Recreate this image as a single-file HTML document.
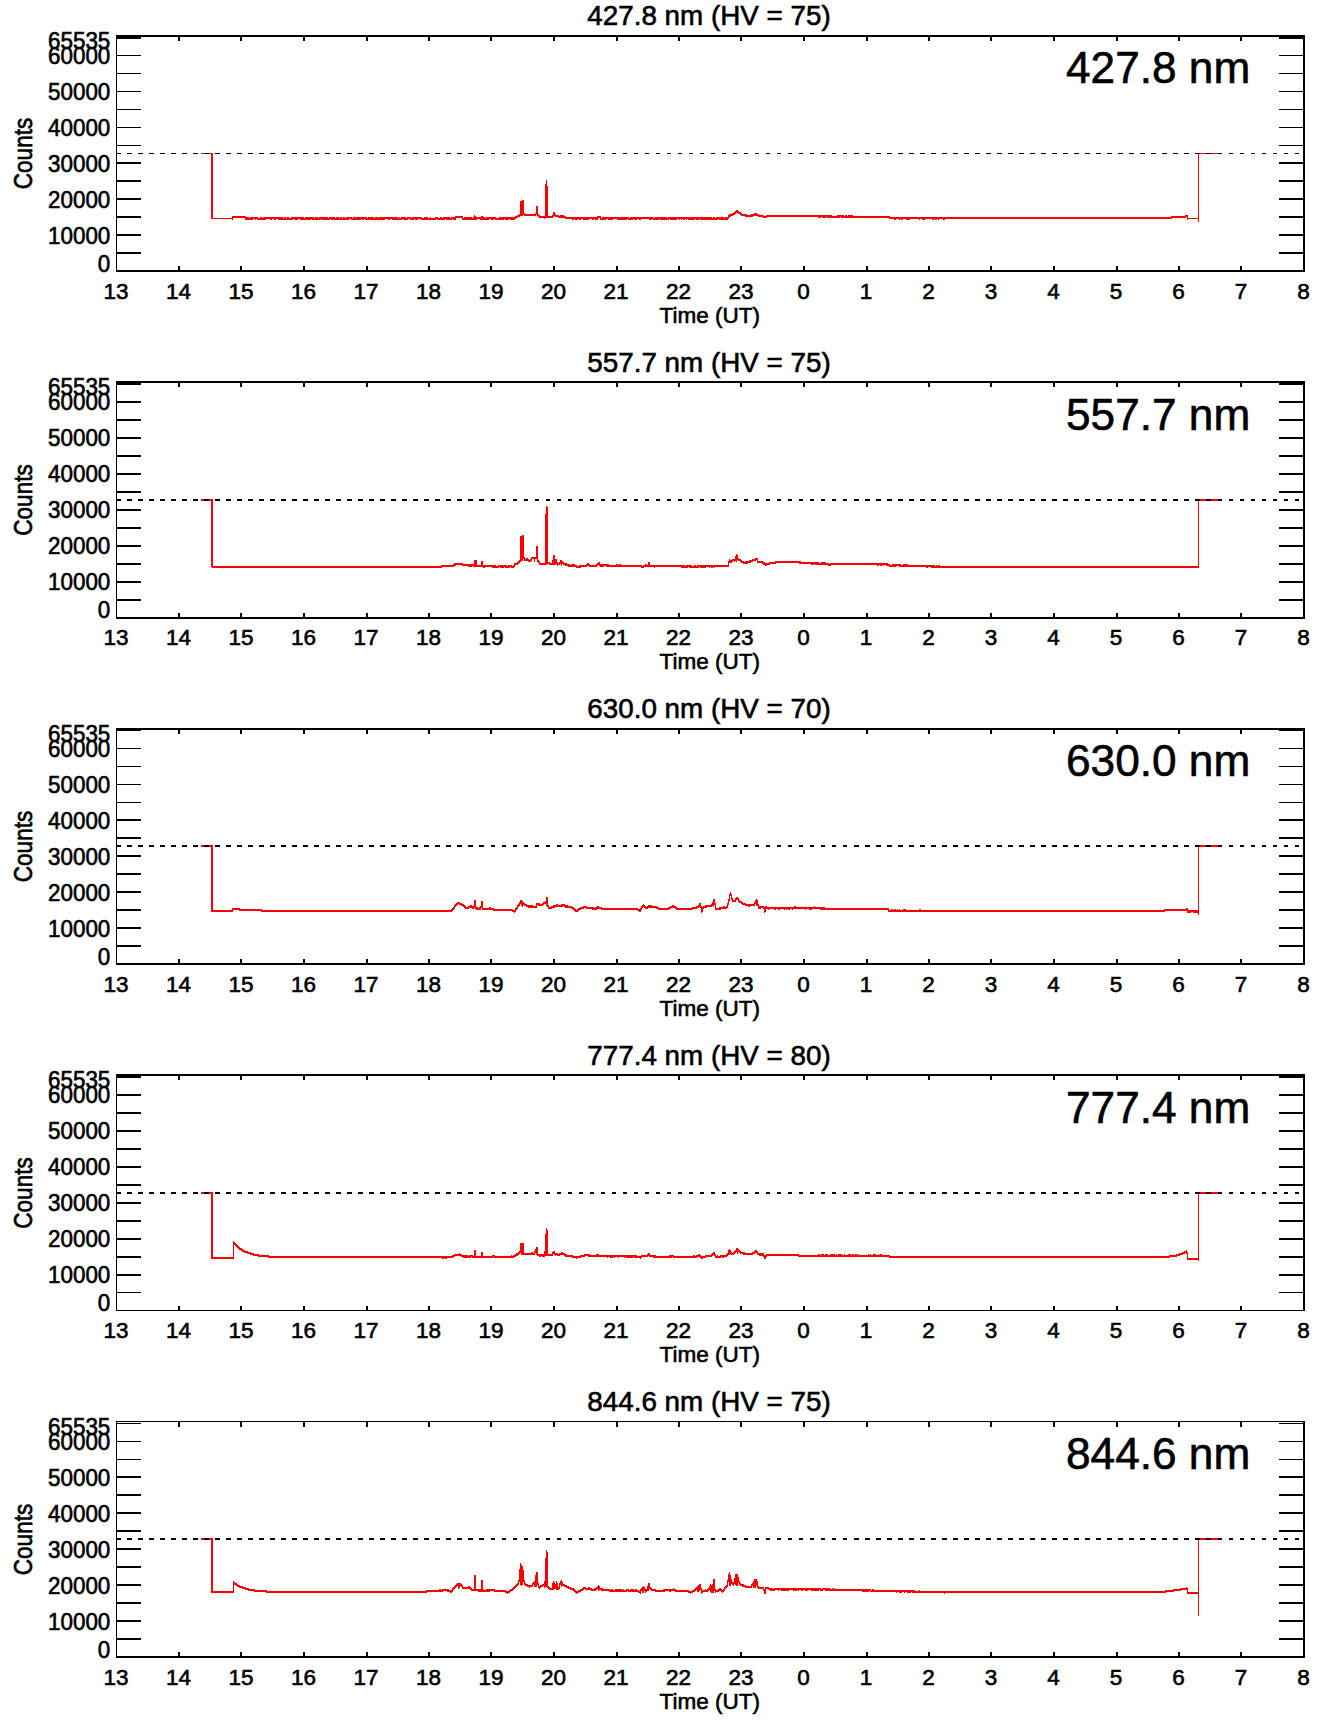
<!DOCTYPE html>
<html><head><meta charset="utf-8"><title>Counts vs Time (UT)</title>
<style>
html,body{margin:0;padding:0;background:#fff}
body{width:1336px;height:1731px;overflow:hidden}
svg{display:block}
svg text{font-family:"Liberation Sans",Arial,Helvetica,sans-serif;fill:#000;stroke:#000;stroke-width:.6px;shape-rendering:crispEdges;text-rendering:optimizeSpeed}
svg rect{shape-rendering:crispEdges}
.k{stroke:#000;shape-rendering:crispEdges}
.d{fill:#f00;stroke:none;shape-rendering:crispEdges}
.t{font-size:27.8px;text-anchor:middle}
.b{font-size:44.2px}
.x{font-size:22.5px;text-anchor:middle}
.y{font-size:22.4px;text-anchor:end}
</style></head><body>
<svg width="1336" height="1731" viewBox="0 0 1336 1731">
<rect width="1336" height="1731" fill="#fff"/>
<g transform="translate(0,0)">
<path class="d" d="M201,153h12v65h19v-2h14v1h3v1h1v-1h8v1h2v-1h2v1h1v-1h20v1h1v-1h2v1h1v-1h2v1h2v-1h13v1h1v-1h9v1h1v-1h3v1h1v-1h9v1h1v-1h6v1h1v-1h3v1h1v-1h2v1h1v-1h2v1h1v-1h6v1h1v-1h14v1h1v-1h6v1h1v-1h3v1h1v-1h19v1h1v-1h1v1h1v-1h5v1h1v-1h4v1h1v-1h10v1h2v-1h4v1h2v-1h1v1h4v-1h3v1h2v-1h2v1h1v-1h7v1h1v-1h4v-1h8v2h1v-1h8v1h1v-1h1v-2h1v1h1v1h5v-1h2v1h2v1h1v-1h10v1h3v-1h16v-1h2v-1h2v-1h1v-13h2v-1h2v13h1v1h10v-1h1v-7h2v8h1v1h1v1h5v-32h1v-4h1v6h1v30h4v-1h1v-3h2v2h1v1h3v1h1v-1h4v1h2v1h31v-1h4v2h1v-1h27v1h1v-1h24v1h1v-1h12v1h1v-1h44v1h1v-1h2v1h1v-1h8v1h1v-1h3v-2h1v-1h3v-1h2v-1h1v-1h1v-1h2v1h1v1h2v1h1v1h5v1h4v-1h3v-1h3v1h2v1h5v1h2v-1h66v1h5v-1h7v1h1v-1h2v1h1v-1h5v1h37v1h281v-1h14v-1h3v3h10v-65h21V154h-20v68h-1v-3h-10v1h-1v-3h-1v1h-14v1h-227v1h-2v-1h-4v1h-1v-1h-1v1h-2v-1h-1v1h-2v-1h-7v1h-3v-1h-2v1h-1v-1h-9v1h-4v-1h-3v1h-2v-1h-1v1h-1v-1h-3v1h-2v-1h-5v-1h-48v-1h-1v1h-13v-1h-1v1h-4v-1h-1v1h-3v-1h-51v1h-4v-1h-5v-1h-5v1h-8v-1h-4v-1h-1v-1h-2v-1h-2v1h-1v1h-2v1h-2v1h-2v2h-1v1h-9v-1h-1v1h-18v-1h-1v1h-3v-1h-1v1h-7v-1h-1v1h-1v-1h-1v1h-2v-1h-1v1h-1v-1h-1v1h-1v-1h-2v1h-7v-1h-1v1h-9v-1h-1v1h-6v-1h-1v1h-3v-1h-8v1h-2v-1h-2v1h-3v-1h-1v1h-5v-1h-1v1h-10v-1h-4v1h-5v-1h-2v1h-6v-2h-2v2h-3v-1h-1v1h-2v-1h-3v1h-6v-1h-2v1h-2v-1h-1v1h-3v-1h-1v1h-2v-1h-7v-1h-7v-1h-3v-1h-1v1h-1v1h-8v1h-1v-1h-5v-1h-1v-1h-1v-1h-1v1h-12v-1h-1v1h-3v1h-2v1h-2v1h-1v1h-5v-1h-1v1h-4v-1h-1v1h-9v-1h-1v1h-3v-1h-2v1h-9v-1h-3v1h-15v-2h-6v2h-3v-1h-1v1h-6v-1h-1v1h-8v-1h-1v1h-15v-1h-3v1h-3v-1h-1v1h-4v-1h-2v1h-5v-1h-1v1h-10v-1h-2v1h-2v-1h-3v1h-20v-1h-1v1h-2v-1h-1v1h-10v-1h-2v1h-18v-1h-1v1h-8v-1h-1v1h-9v-1h-1v1h-11v-1h-2v1h-4v-1h-1v1h-15v-1h-2v1h-2v-1h-2v1h-2v-1h-4v1h-9v-1h-1v1h-1v-1h-2v1h-8v-2h-12v2h-1v-1h-20v-65h-11z"/><rect class="d" x="211" y="153" width="2" height="66"/>
<line class="k" x1="116" x2="1301" y1="153.5" y2="153.5" stroke-width="1" stroke-dasharray="4.5 6.515"/>
<rect x="116" y="35" width="1189" height="2"/>
<rect x="116" y="270" width="1189" height="2"/>
<rect x="116" y="35" width="1" height="237"/>
<rect x="1303" y="35" width="2" height="237"/>
<rect x="116" y="35" width="25" height="4"/>
<rect x="1279" y="35" width="25" height="4"/>
<rect x="116" y="252" width="25" height="2"/>
<rect x="1279" y="252" width="25" height="2"/>
<rect x="116" y="234" width="25" height="2"/>
<rect x="1279" y="234" width="25" height="2"/>
<rect x="116" y="216" width="25" height="2"/>
<rect x="1279" y="216" width="25" height="2"/>
<rect x="116" y="198" width="25" height="2"/>
<rect x="1279" y="198" width="25" height="2"/>
<rect x="116" y="180" width="25" height="2"/>
<rect x="1279" y="180" width="25" height="2"/>
<rect x="116" y="162" width="25" height="2"/>
<rect x="1279" y="162" width="25" height="2"/>
<rect x="116" y="145" width="25" height="1"/>
<rect x="1279" y="145" width="25" height="1"/>
<rect x="116" y="127" width="25" height="1"/>
<rect x="1279" y="127" width="25" height="1"/>
<rect x="116" y="109" width="25" height="1"/>
<rect x="1279" y="109" width="25" height="1"/>
<rect x="116" y="91" width="25" height="1"/>
<rect x="1279" y="91" width="25" height="1"/>
<rect x="116" y="73" width="25" height="1"/>
<rect x="1279" y="73" width="25" height="1"/>
<rect x="116" y="55" width="25" height="1"/>
<rect x="1279" y="55" width="25" height="1"/>
<rect x="178" y="266" width="2" height="5"/>
<rect x="178" y="35" width="2" height="6"/>
<rect x="240" y="266" width="2" height="5"/>
<rect x="240" y="35" width="2" height="6"/>
<rect x="303" y="266" width="2" height="5"/>
<rect x="303" y="35" width="2" height="6"/>
<rect x="366" y="266" width="2" height="5"/>
<rect x="366" y="35" width="2" height="6"/>
<rect x="428" y="266" width="2" height="5"/>
<rect x="428" y="35" width="2" height="6"/>
<rect x="490" y="266" width="2" height="5"/>
<rect x="490" y="35" width="2" height="6"/>
<rect x="553" y="266" width="2" height="5"/>
<rect x="553" y="35" width="2" height="6"/>
<rect x="616" y="266" width="2" height="5"/>
<rect x="616" y="35" width="2" height="6"/>
<rect x="678" y="266" width="2" height="5"/>
<rect x="678" y="35" width="2" height="6"/>
<rect x="740" y="266" width="2" height="5"/>
<rect x="740" y="35" width="2" height="6"/>
<rect x="803" y="266" width="2" height="5"/>
<rect x="803" y="35" width="2" height="6"/>
<rect x="866" y="266" width="2" height="5"/>
<rect x="866" y="35" width="2" height="6"/>
<rect x="928" y="266" width="2" height="5"/>
<rect x="928" y="35" width="2" height="6"/>
<rect x="990" y="266" width="2" height="5"/>
<rect x="990" y="35" width="2" height="6"/>
<rect x="1053" y="266" width="2" height="5"/>
<rect x="1053" y="35" width="2" height="6"/>
<rect x="1116" y="266" width="2" height="5"/>
<rect x="1116" y="35" width="2" height="6"/>
<rect x="1178" y="266" width="2" height="5"/>
<rect x="1178" y="35" width="2" height="6"/>
<rect x="1240" y="266" width="2" height="5"/>
<rect x="1240" y="35" width="2" height="6"/>
</g>
<g transform="translate(0,0)">
<text class="t" x="709" y="25.2">427.8 nm (HV = 75)</text>
<text class="b" x="1066" y="83">427.8 nm</text>
<text class="x" x="709.8" y="322.7">Time (UT)</text>
<text class="x" transform="translate(32.2,153.5) rotate(-90) scale(1,1.16)">Counts</text>
<text class="x" x="116.1" y="298.8">13</text>
<text class="x" x="178.6" y="298.8">14</text>
<text class="x" x="241.1" y="298.8">15</text>
<text class="x" x="303.6" y="298.8">16</text>
<text class="x" x="366.1" y="298.8">17</text>
<text class="x" x="428.6" y="298.8">18</text>
<text class="x" x="491.1" y="298.8">19</text>
<text class="x" x="553.6" y="298.8">20</text>
<text class="x" x="616.1" y="298.8">21</text>
<text class="x" x="678.6" y="298.8">22</text>
<text class="x" x="741.1" y="298.8">23</text>
<text class="x" x="803.6" y="298.8">0</text>
<text class="x" x="866.1" y="298.8">1</text>
<text class="x" x="928.6" y="298.8">2</text>
<text class="x" x="991.1" y="298.8">3</text>
<text class="x" x="1053.6" y="298.8">4</text>
<text class="x" x="1116.1" y="298.8">5</text>
<text class="x" x="1178.6" y="298.8">6</text>
<text class="x" x="1241.1" y="298.8">7</text>
<text class="x" x="1303.6" y="298.8">8</text>
<text class="y" transform="translate(110.3,243.7) scale(1,1.05)">10000</text>
<text class="y" transform="translate(110.3,207.7) scale(1,1.05)">20000</text>
<text class="y" transform="translate(110.3,171.7) scale(1,1.05)">30000</text>
<text class="y" transform="translate(110.3,135.7) scale(1,1.05)">40000</text>
<text class="y" transform="translate(110.3,99.7) scale(1,1.05)">50000</text>
<text class="y" transform="translate(110.3,63.7) scale(1,1.05)">60000</text>
<text class="y" transform="translate(110.3,271.8) scale(1,1.05)">0</text>
<text class="y" transform="translate(110.3,48.8) scale(1,1.05)">65535</text>
</g>
<g transform="translate(0,347)">
<path class="d" d="M201,152h12v67h228v-1h12v-1h1v-1h9v1h11v-4h3v5h4v-4h2v4h13v1h2v-1h9v1h1v-1h4v1h1v-1h1v-2h3v-1h1v-1h1v-1h1v-24h2v-1h2v22h1v2h1v-1h2v1h1v1h1v-1h1v-2h5v-11h2v14h1v1h1v2h5v-49h1v-8h1v1h1v55h2v1h2v-3h1v-5h2v4h2v3h1v1h1v-1h1v-2h2v1h1v1h1v1h3v1h3v1h1v-1h4v1h2v1h2v-1h7v-1h1v-1h2v1h1v1h6v-1h1v-1h1v-1h2v2h9v1h7v-1h2v1h1v-1h2v1h21v1h1v-1h2v-1h2v1h1v-3h2v3h35v1h1v-1h6v1h2v-1h2v1h1v-1h31v-4h1v-2h1v1h2v-1h3v-3h1v-2h1v1h1v3h1v1h2v1h1v1h2v1h1v-1h4v-1h3v-1h3v-1h3v3h5v1h2v1h4v-1h6v-1h26v1h18v1h2v-1h5v1h3v1h1v-1h58v1h2v1h2v-1h9v1h2v-1h5v1h27v1h1v-1h1v1h1v-1h2v1h258v-67h21V154h-20v67h-268v-1h-3v1h-2v-1h-27v-1h-3v1h-7v-1h-3v-1h-2v1h-1v-1h-1v1h-2v-1h-1v1h-2v-1h-46v1h-3v-1h-13v-1h-1v1h-3v-1h-12v-1h-23v1h-6v1h-3v1h-2v-1h-2v-1h-1v-1h-5v-3h-1v1h-3v1h-2v1h-3v1h-5v-1h-2v-1h-1v-1h-2v-1h-1v2h-1v-1h-1v1h-1v-1h-1v1h-1v1h-3v4h-14v1h-1v-1h-1v1h-2v-1h-1v1h-1v-1h-3v1h-6v-1h-1v1h-10v-1h-1v1h-7v-1h-26v1h-1v-1h-10v1h-3v-1h-35v-1h-2v1h-4v-1h-1v-1h-1v1h-1v1h-8v-1h-2v1h-6v1h-5v-1h-8v-1h-3v-1h-2v-1h-1v2h-1v-2h-1v1h-2v1h-1v-2h-1v1h-7v-1h-2v1h-8v-2h-1v-1h-1v-3h-2v3h-1v-3h-2v2h-1v1h-3v-1h-4v-2h-1v2h-2v1h-1v1h-1v1h-1v1h-3v2h-1v1h-3v-1h-1v1h-5v-1h-1v1h-4v-1h-1v1h-7v-1h-7v1h-2v-1h-10v-1h-1v1h-4v-1h-6v-1h-6v1h-2v1h-12v1h-230v-67h-11z"/><rect class="d" x="211" y="153" width="2" height="67"/>
<line class="k" x1="116" x2="1301" y1="153" y2="153" stroke-width="2" stroke-dasharray="4.5 6.515"/>
<rect x="116" y="34" width="1189" height="2"/>
<rect x="116" y="270" width="1189" height="2"/>
<rect x="116" y="34" width="1" height="238"/>
<rect x="1303" y="34" width="2" height="238"/>
<rect x="116" y="34" width="25" height="4"/>
<rect x="1279" y="34" width="25" height="4"/>
<rect x="116" y="252" width="25" height="2"/>
<rect x="1279" y="252" width="25" height="2"/>
<rect x="116" y="234" width="25" height="2"/>
<rect x="1279" y="234" width="25" height="2"/>
<rect x="116" y="216" width="25" height="2"/>
<rect x="1279" y="216" width="25" height="2"/>
<rect x="116" y="198" width="25" height="2"/>
<rect x="1279" y="198" width="25" height="2"/>
<rect x="116" y="180" width="25" height="2"/>
<rect x="1279" y="180" width="25" height="2"/>
<rect x="116" y="162" width="25" height="2"/>
<rect x="1279" y="162" width="25" height="2"/>
<rect x="116" y="144" width="25" height="2"/>
<rect x="1279" y="144" width="25" height="2"/>
<rect x="116" y="126" width="25" height="2"/>
<rect x="1279" y="126" width="25" height="2"/>
<rect x="116" y="108" width="25" height="2"/>
<rect x="1279" y="108" width="25" height="2"/>
<rect x="116" y="90" width="25" height="2"/>
<rect x="1279" y="90" width="25" height="2"/>
<rect x="116" y="72" width="25" height="2"/>
<rect x="1279" y="72" width="25" height="2"/>
<rect x="116" y="54" width="25" height="2"/>
<rect x="1279" y="54" width="25" height="2"/>
<rect x="178" y="266" width="2" height="5"/>
<rect x="178" y="34" width="2" height="6"/>
<rect x="240" y="266" width="2" height="5"/>
<rect x="240" y="34" width="2" height="6"/>
<rect x="303" y="266" width="2" height="5"/>
<rect x="303" y="34" width="2" height="6"/>
<rect x="366" y="266" width="2" height="5"/>
<rect x="366" y="34" width="2" height="6"/>
<rect x="428" y="266" width="2" height="5"/>
<rect x="428" y="34" width="2" height="6"/>
<rect x="490" y="266" width="2" height="5"/>
<rect x="490" y="34" width="2" height="6"/>
<rect x="553" y="266" width="2" height="5"/>
<rect x="553" y="34" width="2" height="6"/>
<rect x="616" y="266" width="2" height="5"/>
<rect x="616" y="34" width="2" height="6"/>
<rect x="678" y="266" width="2" height="5"/>
<rect x="678" y="34" width="2" height="6"/>
<rect x="740" y="266" width="2" height="5"/>
<rect x="740" y="34" width="2" height="6"/>
<rect x="803" y="266" width="2" height="5"/>
<rect x="803" y="34" width="2" height="6"/>
<rect x="866" y="266" width="2" height="5"/>
<rect x="866" y="34" width="2" height="6"/>
<rect x="928" y="266" width="2" height="5"/>
<rect x="928" y="34" width="2" height="6"/>
<rect x="990" y="266" width="2" height="5"/>
<rect x="990" y="34" width="2" height="6"/>
<rect x="1053" y="266" width="2" height="5"/>
<rect x="1053" y="34" width="2" height="6"/>
<rect x="1116" y="266" width="2" height="5"/>
<rect x="1116" y="34" width="2" height="6"/>
<rect x="1178" y="266" width="2" height="5"/>
<rect x="1178" y="34" width="2" height="6"/>
<rect x="1240" y="266" width="2" height="5"/>
<rect x="1240" y="34" width="2" height="6"/>
</g>
<g transform="translate(0,346.5)">
<text class="t" x="709" y="25.2">557.7 nm (HV = 75)</text>
<text class="b" x="1066" y="83">557.7 nm</text>
<text class="x" x="709.8" y="322.7">Time (UT)</text>
<text class="x" transform="translate(32.2,153.5) rotate(-90) scale(1,1.16)">Counts</text>
<text class="x" x="116.1" y="298.8">13</text>
<text class="x" x="178.6" y="298.8">14</text>
<text class="x" x="241.1" y="298.8">15</text>
<text class="x" x="303.6" y="298.8">16</text>
<text class="x" x="366.1" y="298.8">17</text>
<text class="x" x="428.6" y="298.8">18</text>
<text class="x" x="491.1" y="298.8">19</text>
<text class="x" x="553.6" y="298.8">20</text>
<text class="x" x="616.1" y="298.8">21</text>
<text class="x" x="678.6" y="298.8">22</text>
<text class="x" x="741.1" y="298.8">23</text>
<text class="x" x="803.6" y="298.8">0</text>
<text class="x" x="866.1" y="298.8">1</text>
<text class="x" x="928.6" y="298.8">2</text>
<text class="x" x="991.1" y="298.8">3</text>
<text class="x" x="1053.6" y="298.8">4</text>
<text class="x" x="1116.1" y="298.8">5</text>
<text class="x" x="1178.6" y="298.8">6</text>
<text class="x" x="1241.1" y="298.8">7</text>
<text class="x" x="1303.6" y="298.8">8</text>
<text class="y" transform="translate(110.3,243.7) scale(1,1.05)">10000</text>
<text class="y" transform="translate(110.3,207.7) scale(1,1.05)">20000</text>
<text class="y" transform="translate(110.3,171.7) scale(1,1.05)">30000</text>
<text class="y" transform="translate(110.3,135.7) scale(1,1.05)">40000</text>
<text class="y" transform="translate(110.3,99.7) scale(1,1.05)">50000</text>
<text class="y" transform="translate(110.3,63.7) scale(1,1.05)">60000</text>
<text class="y" transform="translate(110.3,271.8) scale(1,1.05)">0</text>
<text class="y" transform="translate(110.3,48.8) scale(1,1.05)">65535</text>
</g>
<g transform="translate(0,693)">
<path class="d" d="M201,152h12v65h19v-2h8v1h22v1h189v-1h1v-1h1v-1h1v-2h1v-1h1v-1h1v-1h3v1h2v1h2v1h1v1h1v1h2v-1h2v-1h2v1h2v-6h2v7h2v1h1v-1h1v-1h1v-5h2v7h6v-1h2v1h3v1h19v1h2v-2h1v-1h1v-2h1v-1h1v-2h1v-2h2v1h1v1h1v1h1v1h2v1h6v1h3v-3h4v1h2v-1h1v-1h2v-1h1v-4h2v8h1v2h2v-1h2v-1h3v-1h2v1h3v-1h4v1h3v1h4v1h2v1h1v1h1v1h1v-1h1v-1h2v-1h3v-1h4v1h7v1h1v-1h2v-1h2v1h3v1h36v1h2v-1h1v-2h1v-1h1v-1h1v1h1v1h1v1h1v-1h1v-1h4v1h5v1h2v1h9v-1h2v-1h2v-1h2v1h2v1h1v1h15v-1h4v-1h2v-1h1v-2h2v3h1v1h1v-1h2v-1h6v-1h1v-2h1v-3h2v4h1v5h3v-1h4v-1h2v1h1v-1h1v-3h1v-4h1v-5h1v-2h1v2h1v4h1v2h2v-2h1v-1h2v1h1v2h1v1h2v1h1v1h3v1h8v-2h1v-2h1v-1h1v1h1v4h1v2h5v1h1v-1h2v1h27v-1h2v1h18v-1h1v1h10v1h64v2h2v-1h2v1h1v-1h2v1h1v-1h1v1h1v-1h1v1h3v-1h3v1h13v-1h2v1h243v-1h22v-1h2v2h10v-65h21V154h-20v68h-1v-2h-5v-1h-2v1h-4v-2h-22v1h-277v-2h-68v-1h-8v1h-3v-1h-3v1h-1v-1h-12v1h-1v-1h-2v1h-2v-1h-1v1h-1v-1h-1v1h-1v-1h-4v1h-2v-1h-2v1h-2v-1h-5v1h-1v-1h-2v3h-1v1h-1v-4h-1v-1h-2v1h-3v-3h-2v-2h-1v2h-5v1h-2v-1h-3v-1h-3v-1h-1v-1h-2v-1h-1v-2h-2v2h-4v-2h-1v-4h-1v5h-1v4h-1v3h-1v1h-6v1h-6v-5h-1v2h-1v-1h-1v1h-5v1h-3v1h-1v3h-1v1h-1v-5h-1v-1h-1v1h-2v1h-4v1h-17v-1h-1v-1h-4v1h-2v1h-11v-1h-2v-1h-8v1h-3v-1h-1v-1h-1v1h-1v2h-1v2h-2v-1h-2v-1h-36v-1h-4v1h-5v-1h-6v-1h-2v1h-3v1h-2v1h-1v1h-3v-1h-1v-1h-1v-1h-2v-1h-6v-1h-1v-1h-1v1h-8v1h-3v1h-4v-2h-1v-1h-1v-2h-2v1h-1v1h-5v-1h-1v3h-9v-1h-2v-1h-2v-1h-1v2h-1v-1h-1v-2h-1v2h-1v1h-1v2h-1v1h-1v2h-1v1h-1v-1h-2v-1h-19v-1h-11v-2h-1v2h-5v-1h-1v-1h-1v1h-2v-1h-3v1h-4v-1h-1v-1h-1v-1h-2v-1h-2v-1h-1v1h-1v1h-1v1h-1v2h-1v1h-1v1h-1v1h-191v-1h-22v-1h-6v2h-21v-65h-11z"/><rect class="d" x="211" y="153" width="2" height="66"/>
<line class="k" x1="116" x2="1301" y1="153" y2="153" stroke-width="2" stroke-dasharray="4.5 6.515"/>
<rect x="116" y="35" width="1189" height="2"/>
<rect x="116" y="270" width="1189" height="2"/>
<rect x="116" y="35" width="1" height="237"/>
<rect x="1303" y="35" width="2" height="237"/>
<rect x="116" y="35" width="25" height="3"/>
<rect x="1279" y="35" width="25" height="3"/>
<rect x="116" y="252" width="25" height="2"/>
<rect x="1279" y="252" width="25" height="2"/>
<rect x="116" y="234" width="25" height="2"/>
<rect x="1279" y="234" width="25" height="2"/>
<rect x="116" y="216" width="25" height="2"/>
<rect x="1279" y="216" width="25" height="2"/>
<rect x="116" y="198" width="25" height="2"/>
<rect x="1279" y="198" width="25" height="2"/>
<rect x="116" y="180" width="25" height="2"/>
<rect x="1279" y="180" width="25" height="2"/>
<rect x="116" y="162" width="25" height="2"/>
<rect x="1279" y="162" width="25" height="2"/>
<rect x="116" y="144" width="25" height="2"/>
<rect x="1279" y="144" width="25" height="2"/>
<rect x="116" y="126" width="25" height="2"/>
<rect x="1279" y="126" width="25" height="2"/>
<rect x="116" y="109" width="25" height="1"/>
<rect x="1279" y="109" width="25" height="1"/>
<rect x="116" y="91" width="25" height="1"/>
<rect x="1279" y="91" width="25" height="1"/>
<rect x="116" y="73" width="25" height="1"/>
<rect x="1279" y="73" width="25" height="1"/>
<rect x="116" y="55" width="25" height="1"/>
<rect x="1279" y="55" width="25" height="1"/>
<rect x="178" y="266" width="2" height="5"/>
<rect x="178" y="35" width="2" height="6"/>
<rect x="240" y="266" width="2" height="5"/>
<rect x="240" y="35" width="2" height="6"/>
<rect x="303" y="266" width="2" height="5"/>
<rect x="303" y="35" width="2" height="6"/>
<rect x="366" y="266" width="2" height="5"/>
<rect x="366" y="35" width="2" height="6"/>
<rect x="428" y="266" width="2" height="5"/>
<rect x="428" y="35" width="2" height="6"/>
<rect x="490" y="266" width="2" height="5"/>
<rect x="490" y="35" width="2" height="6"/>
<rect x="553" y="266" width="2" height="5"/>
<rect x="553" y="35" width="2" height="6"/>
<rect x="616" y="266" width="2" height="5"/>
<rect x="616" y="35" width="2" height="6"/>
<rect x="678" y="266" width="2" height="5"/>
<rect x="678" y="35" width="2" height="6"/>
<rect x="740" y="266" width="2" height="5"/>
<rect x="740" y="35" width="2" height="6"/>
<rect x="803" y="266" width="2" height="5"/>
<rect x="803" y="35" width="2" height="6"/>
<rect x="866" y="266" width="2" height="5"/>
<rect x="866" y="35" width="2" height="6"/>
<rect x="928" y="266" width="2" height="5"/>
<rect x="928" y="35" width="2" height="6"/>
<rect x="990" y="266" width="2" height="5"/>
<rect x="990" y="35" width="2" height="6"/>
<rect x="1053" y="266" width="2" height="5"/>
<rect x="1053" y="35" width="2" height="6"/>
<rect x="1116" y="266" width="2" height="5"/>
<rect x="1116" y="35" width="2" height="6"/>
<rect x="1178" y="266" width="2" height="5"/>
<rect x="1178" y="35" width="2" height="6"/>
<rect x="1240" y="266" width="2" height="5"/>
<rect x="1240" y="35" width="2" height="6"/>
</g>
<g transform="translate(0,693)">
<text class="t" x="709" y="25.2">630.0 nm (HV = 70)</text>
<text class="b" x="1066" y="83">630.0 nm</text>
<text class="x" x="709.8" y="322.7">Time (UT)</text>
<text class="x" transform="translate(32.2,153.5) rotate(-90) scale(1,1.16)">Counts</text>
<text class="x" x="116.1" y="298.8">13</text>
<text class="x" x="178.6" y="298.8">14</text>
<text class="x" x="241.1" y="298.8">15</text>
<text class="x" x="303.6" y="298.8">16</text>
<text class="x" x="366.1" y="298.8">17</text>
<text class="x" x="428.6" y="298.8">18</text>
<text class="x" x="491.1" y="298.8">19</text>
<text class="x" x="553.6" y="298.8">20</text>
<text class="x" x="616.1" y="298.8">21</text>
<text class="x" x="678.6" y="298.8">22</text>
<text class="x" x="741.1" y="298.8">23</text>
<text class="x" x="803.6" y="298.8">0</text>
<text class="x" x="866.1" y="298.8">1</text>
<text class="x" x="928.6" y="298.8">2</text>
<text class="x" x="991.1" y="298.8">3</text>
<text class="x" x="1053.6" y="298.8">4</text>
<text class="x" x="1116.1" y="298.8">5</text>
<text class="x" x="1178.6" y="298.8">6</text>
<text class="x" x="1241.1" y="298.8">7</text>
<text class="x" x="1303.6" y="298.8">8</text>
<text class="y" transform="translate(110.3,243.7) scale(1,1.05)">10000</text>
<text class="y" transform="translate(110.3,207.7) scale(1,1.05)">20000</text>
<text class="y" transform="translate(110.3,171.7) scale(1,1.05)">30000</text>
<text class="y" transform="translate(110.3,135.7) scale(1,1.05)">40000</text>
<text class="y" transform="translate(110.3,99.7) scale(1,1.05)">50000</text>
<text class="y" transform="translate(110.3,63.7) scale(1,1.05)">60000</text>
<text class="y" transform="translate(110.3,271.8) scale(1,1.05)">0</text>
<text class="y" transform="translate(110.3,48.8) scale(1,1.05)">65535</text>
</g>
<g transform="translate(0,1040)">
<path class="d" d="M201,152h12v65h20v-16h1v1h1v1h1v1h1v1h1v1h1v1h1v1h2v1h1v1h2v1h3v1h3v1h3v1h5v1h10v1h183v-1h2v-1h5v-1h1v1h2v1h6v1h1v-1h4v1h1v-6h2v6h5v-4h2v4h9v-1h3v1h16v-1h1v1h1v-1h2v-1h1v-1h2v-1h1v-1h1v-8h4v10h7v-1h2v1h1v-2h1v-2h1v-2h2v7h6v-3h1v-17h1v-6h1v2h1v24h4v-2h1v-1h2v2h3v1h1v-1h2v-1h2v1h2v1h2v1h6v1h7v-1h4v-1h6v1h6v-1h3v1h38v1h4v-1h6v-1h1v-1h2v2h6v1h13v-1h5v1h19v-1h2v1h1v-1h2v-1h2v1h1v1h4v-1h6v-1h1v-1h1v-1h2v2h1v2h1v-1h1v1h2v-1h6v-1h1v-1h1v-3h1v-1h1v1h1v2h1v1h1v-1h1v-1h1v-1h1v-2h2v1h1v1h1v1h1v1h4v1h7v-1h2v-1h1v-1h2v1h1v2h6v2h2v-1h33v1h19v-1h2v1h1v-1h3v1h1v-1h3v1h2v-1h5v1h1v-1h1v1h1v-1h4v1h2v-1h1v1h3v-1h3v1h1v-1h2v1h1v-1h2v1h1v-1h1v1h9v-1h1v1h1v-1h1v1h2v-1h3v1h2v-1h1v1h1v-1h2v1h8v1h279v-1h7v-1h3v-1h3v-1h2v-1h2v-1h1v2h1v6h10v-66h21V154h-20v67h-1v-1h-11v-6h-1v-1h-1v1h-2v1h-3v1h-3v1h-7v1h-281v-1h-91v-1h-31v1h-1v2h-2v-2h-1v-1h-4v-1h-2v-2h-2v1h-2v1h-10v-1h-3v-1h-1v-1h-1v2h-1v-2h-1v1h-1v1h-1v1h-3v-1h-1v1h-2v1h-1v1h-3v1h-2v-1h-1v1h-6v-2h-1v-1h-1v1h-1v1h-6v1h-3v1h-2v-1h-1v-1h-3v1h-24v-1h-1v1h-19v-1h-4v-1h-1v1h-6v1h-1v1h-1v-1h-6v-1h-1v1h-7v-1h-1v1h-1v-1h-5v1h-1v-1h-3v1h-1v-1h-1v1h-3v-1h-2v1h-1v-1h-19v-1h-3v1h-4v1h-4v1h-1v-1h-4v-1h-7v-1h-1v-1h-4v1h-3v-1h-1v1h-1v-1h-1v-1h-1v2h-8v1h-3v-1h-1v1h-2v-1h-2v-1h-1v-2h-1v2h-14v-2h-1v1h-1v1h-1v1h-2v1h-2v1h-20v-1h-1v1h-21v-1h-1v1h-8v-1h-2v-1h-6v1h-2v1h-6v1h-2v-1h-1v1h-2v-1h-174v-1h-10v-1h-5v-1h-3v-1h-3v-1h-3v-1h-2v-1h-1v-1h-2v-1h-1v-1h-1v-1h-1v-1h-1v-1h-1v14h-22v-65h-11z"/><rect class="d" x="211" y="153" width="2" height="66"/>
<line class="k" x1="116" x2="1301" y1="153" y2="153" stroke-width="2" stroke-dasharray="4.5 6.515"/>
<rect x="116" y="34" width="1189" height="2"/>
<rect x="116" y="270" width="1189" height="1"/>
<rect x="116" y="34" width="1" height="237"/>
<rect x="1303" y="34" width="2" height="237"/>
<rect x="116" y="34" width="25" height="4"/>
<rect x="1279" y="34" width="25" height="4"/>
<rect x="116" y="252" width="25" height="1"/>
<rect x="1279" y="252" width="25" height="1"/>
<rect x="116" y="234" width="25" height="2"/>
<rect x="1279" y="234" width="25" height="2"/>
<rect x="116" y="216" width="25" height="2"/>
<rect x="1279" y="216" width="25" height="2"/>
<rect x="116" y="198" width="25" height="2"/>
<rect x="1279" y="198" width="25" height="2"/>
<rect x="116" y="180" width="25" height="2"/>
<rect x="1279" y="180" width="25" height="2"/>
<rect x="116" y="162" width="25" height="2"/>
<rect x="1279" y="162" width="25" height="2"/>
<rect x="116" y="144" width="25" height="2"/>
<rect x="1279" y="144" width="25" height="2"/>
<rect x="116" y="126" width="25" height="2"/>
<rect x="1279" y="126" width="25" height="2"/>
<rect x="116" y="108" width="25" height="2"/>
<rect x="1279" y="108" width="25" height="2"/>
<rect x="116" y="90" width="25" height="2"/>
<rect x="1279" y="90" width="25" height="2"/>
<rect x="116" y="72" width="25" height="2"/>
<rect x="1279" y="72" width="25" height="2"/>
<rect x="116" y="54" width="25" height="2"/>
<rect x="1279" y="54" width="25" height="2"/>
<rect x="178" y="266" width="2" height="5"/>
<rect x="178" y="34" width="2" height="6"/>
<rect x="240" y="266" width="2" height="5"/>
<rect x="240" y="34" width="2" height="6"/>
<rect x="303" y="266" width="2" height="5"/>
<rect x="303" y="34" width="2" height="6"/>
<rect x="366" y="266" width="2" height="5"/>
<rect x="366" y="34" width="2" height="6"/>
<rect x="428" y="266" width="2" height="5"/>
<rect x="428" y="34" width="2" height="6"/>
<rect x="490" y="266" width="2" height="5"/>
<rect x="490" y="34" width="2" height="6"/>
<rect x="553" y="266" width="2" height="5"/>
<rect x="553" y="34" width="2" height="6"/>
<rect x="616" y="266" width="2" height="5"/>
<rect x="616" y="34" width="2" height="6"/>
<rect x="678" y="266" width="2" height="5"/>
<rect x="678" y="34" width="2" height="6"/>
<rect x="740" y="266" width="2" height="5"/>
<rect x="740" y="34" width="2" height="6"/>
<rect x="803" y="266" width="2" height="5"/>
<rect x="803" y="34" width="2" height="6"/>
<rect x="866" y="266" width="2" height="5"/>
<rect x="866" y="34" width="2" height="6"/>
<rect x="928" y="266" width="2" height="5"/>
<rect x="928" y="34" width="2" height="6"/>
<rect x="990" y="266" width="2" height="5"/>
<rect x="990" y="34" width="2" height="6"/>
<rect x="1053" y="266" width="2" height="5"/>
<rect x="1053" y="34" width="2" height="6"/>
<rect x="1116" y="266" width="2" height="5"/>
<rect x="1116" y="34" width="2" height="6"/>
<rect x="1178" y="266" width="2" height="5"/>
<rect x="1178" y="34" width="2" height="6"/>
<rect x="1240" y="266" width="2" height="5"/>
<rect x="1240" y="34" width="2" height="6"/>
</g>
<g transform="translate(0,1039.5)">
<text class="t" x="709" y="25.2">777.4 nm (HV = 80)</text>
<text class="b" x="1066" y="83">777.4 nm</text>
<text class="x" x="709.8" y="322.7">Time (UT)</text>
<text class="x" transform="translate(32.2,153.5) rotate(-90) scale(1,1.16)">Counts</text>
<text class="x" x="116.1" y="298.8">13</text>
<text class="x" x="178.6" y="298.8">14</text>
<text class="x" x="241.1" y="298.8">15</text>
<text class="x" x="303.6" y="298.8">16</text>
<text class="x" x="366.1" y="298.8">17</text>
<text class="x" x="428.6" y="298.8">18</text>
<text class="x" x="491.1" y="298.8">19</text>
<text class="x" x="553.6" y="298.8">20</text>
<text class="x" x="616.1" y="298.8">21</text>
<text class="x" x="678.6" y="298.8">22</text>
<text class="x" x="741.1" y="298.8">23</text>
<text class="x" x="803.6" y="298.8">0</text>
<text class="x" x="866.1" y="298.8">1</text>
<text class="x" x="928.6" y="298.8">2</text>
<text class="x" x="991.1" y="298.8">3</text>
<text class="x" x="1053.6" y="298.8">4</text>
<text class="x" x="1116.1" y="298.8">5</text>
<text class="x" x="1178.6" y="298.8">6</text>
<text class="x" x="1241.1" y="298.8">7</text>
<text class="x" x="1303.6" y="298.8">8</text>
<text class="y" transform="translate(110.3,243.7) scale(1,1.05)">10000</text>
<text class="y" transform="translate(110.3,207.7) scale(1,1.05)">20000</text>
<text class="y" transform="translate(110.3,171.7) scale(1,1.05)">30000</text>
<text class="y" transform="translate(110.3,135.7) scale(1,1.05)">40000</text>
<text class="y" transform="translate(110.3,99.7) scale(1,1.05)">50000</text>
<text class="y" transform="translate(110.3,63.7) scale(1,1.05)">60000</text>
<text class="y" transform="translate(110.3,271.8) scale(1,1.05)">0</text>
<text class="y" transform="translate(110.3,48.8) scale(1,1.05)">65535</text>
</g>
<g transform="translate(0,1386)">
<path class="d" d="M201,152h12v53h20v-10h1v1h1v1h2v1h1v1h2v1h3v1h3v1h3v1h6v1h12v1h159v-1h13v-1h2v1h1v-1h7v1h3v-2h1v-1h1v-1h1v-1h1v-1h1v-1h4v1h1v1h1v2h5v-1h2v1h1v1h1v1h2v-14h2v14h5v-9h2v9h1v1h2v-1h9v1h11v1h3v-1h1v-1h2v-1h1v-1h1v-1h1v-1h1v-1h1v-1h1v-3h1v-11h1v-6h1v2h1v1h1v4h1v10h1v3h1v1h2v1h4v-2h1v-1h1v-1h1v-6h1v-3h2v11h1v3h1v-1h2v-1h2v-3h1v-23h1v-8h1v2h1v34h1v1h1v1h2v-5h1v-2h1v1h1v2h1v-3h1v2h1v4h1v-4h1v-2h1v-1h1v2h1v2h2v1h2v1h2v1h2v1h3v1h1v1h1v1h2v-1h2v-1h2v-1h1v-1h3v1h2v-1h2v1h2v1h2v-1h2v-1h1v-1h1v-1h1v1h1v2h3v1h7v1h1v-1h2v1h2v-1h7v1h1v-1h1v1h2v-1h3v1h1v-1h4v1h1v-1h2v1h2v1h1v-2h1v-1h1v-1h1v-1h1v1h1v2h2v-3h1v-3h2v4h1v1h1v1h4v1h7v-1h10v-1h1v1h2v1h13v1h3v-1h2v-1h1v-1h1v-1h1v-1h1v-1h1v-1h2v4h1v2h3v-1h1v1h1v-1h1v-1h1v-2h1v-2h1v1h1v-1h1v-5h2v10h1v1h2v-1h1v-1h2v1h1v1h1v-1h1v-2h1v-1h1v-1h1v-5h1v-6h1v-2h1v3h1v4h1v3h2v-4h1v-4h3v3h1v4h1v2h1v1h3v1h2v1h5v-2h1v-1h1v-2h1v-2h3v2h1v5h1v1h5v2h1v-2h4v1h4v1h1v-1h47v1h1v-1h8v1h2v-1h1v1h1v-1h1v1h36v1h1v-1h2v1h41v1h4v-1h1v1h245v-1h8v-1h7v-1h6v-1h1v1h1v4h10v-54h21V154h-20v76h-1v-22h-11v-4h-6v1h-7v1h-8v1h-221v1h-1v-1h-32v-1h-1v1h-4v-1h-2v1h-1v-1h-2v1h-3v-1h-2v1h-1v-1h-26v-1h-1v1h-7v-1h-37v-1h-2v1h-3v-1h-1v1h-8v-1h-3v1h-3v-1h-2v1h-2v-1h-2v1h-1v-1h-1v1h-4v-1h-4v1h-8v-1h-2v1h-1v-1h-3v1h-5v-1h-2v-1h-2v5h-2v-3h-1v-2h-5v-1h-1v-2h-1v2h-3v-2h-1v2h-7v-1h-3v-1h-2v-1h-1v-2h-1v3h-2v-1h-1v-1h-1v2h-1v-1h-1v-1h-1v2h-2v-4h-1v5h-1v1h-1v1h-1v2h-1v1h-1v1h-1v-1h-1v-1h-2v1h-3v1h-1v-2h-1v2h-3v-1h-1v-2h-1v1h-1v1h-5v1h-1v1h-1v-4h-1v1h-1v1h-2v-2h-1v1h-1v1h-2v1h-2v1h-1v-1h-2v-1h-13v-1h-4v1h-2v-1h-4v1h-10v-1h-4v-1h-1v-1h-1v2h-2v1h-1v1h-1v-2h-1v2h-2v-2h-1v3h-1v-1h-2v-1h-10v-1h-1v1h-18v-1h-8v-1h-2v1h-1v-2h-1v1h-1v1h-5v-1h-6v-1h-1v1h-1v1h-2v1h-2v1h-2v1h-1v-1h-1v-1h-1v-1h-1v-1h-3v-1h-2v-1h-2v-1h-2v-1h-2v1h-1v-2h-1v4h-1v1h-3v-1h-2v1h-5v-1h-1v-1h-1v-1h-2v1h-1v-2h-1v1h-2v1h-1v1h-1v-1h-1v-3h-1v2h-3v-2h-1v2h-3v1h-1v-1h-2v-1h-2v-1h-1v-3h-1v3h-1v1h-1v-1h-1v-3h-1v3h-1v1h-1v1h-1v1h-1v1h-1v1h-1v1h-2v1h-1v1h-2v1h-1v-1h-2v-1h-11v-1h-4v1h-12v-1h-7v-1h-1v-1h-8v-2h-1v-1h-1v2h-1v1h-1v-3h-1v1h-1v1h-1v1h-1v1h-1v2h-1v1h-2v-1h-3v-1h-4v1h-16v1h-161v-1h-12v-1h-6v-1h-3v-1h-3v-1h-3v-1h-2v-1h-1v-1h-2v8h-22v-53h-11z"/><rect class="d" x="211" y="153" width="2" height="54"/>
<line class="k" x1="116" x2="1301" y1="153" y2="153" stroke-width="2" stroke-dasharray="4.5 6.515"/>
<rect x="116" y="35" width="1189" height="1"/>
<rect x="116" y="270" width="1189" height="2"/>
<rect x="116" y="35" width="1" height="237"/>
<rect x="1303" y="35" width="2" height="237"/>
<rect x="116" y="37" width="25" height="1"/>
<rect x="1279" y="37" width="25" height="1"/>
<rect x="116" y="252" width="25" height="2"/>
<rect x="1279" y="252" width="25" height="2"/>
<rect x="116" y="234" width="25" height="2"/>
<rect x="1279" y="234" width="25" height="2"/>
<rect x="116" y="216" width="25" height="2"/>
<rect x="1279" y="216" width="25" height="2"/>
<rect x="116" y="198" width="25" height="2"/>
<rect x="1279" y="198" width="25" height="2"/>
<rect x="116" y="180" width="25" height="2"/>
<rect x="1279" y="180" width="25" height="2"/>
<rect x="116" y="162" width="25" height="2"/>
<rect x="1279" y="162" width="25" height="2"/>
<rect x="116" y="144" width="25" height="2"/>
<rect x="1279" y="144" width="25" height="2"/>
<rect x="116" y="126" width="25" height="2"/>
<rect x="1279" y="126" width="25" height="2"/>
<rect x="116" y="108" width="25" height="2"/>
<rect x="1279" y="108" width="25" height="2"/>
<rect x="116" y="90" width="25" height="2"/>
<rect x="1279" y="90" width="25" height="2"/>
<rect x="116" y="73" width="25" height="1"/>
<rect x="1279" y="73" width="25" height="1"/>
<rect x="116" y="55" width="25" height="1"/>
<rect x="1279" y="55" width="25" height="1"/>
<rect x="178" y="266" width="2" height="5"/>
<rect x="178" y="35" width="2" height="6"/>
<rect x="240" y="266" width="2" height="5"/>
<rect x="240" y="35" width="2" height="6"/>
<rect x="303" y="266" width="2" height="5"/>
<rect x="303" y="35" width="2" height="6"/>
<rect x="366" y="266" width="2" height="5"/>
<rect x="366" y="35" width="2" height="6"/>
<rect x="428" y="266" width="2" height="5"/>
<rect x="428" y="35" width="2" height="6"/>
<rect x="490" y="266" width="2" height="5"/>
<rect x="490" y="35" width="2" height="6"/>
<rect x="553" y="266" width="2" height="5"/>
<rect x="553" y="35" width="2" height="6"/>
<rect x="616" y="266" width="2" height="5"/>
<rect x="616" y="35" width="2" height="6"/>
<rect x="678" y="266" width="2" height="5"/>
<rect x="678" y="35" width="2" height="6"/>
<rect x="740" y="266" width="2" height="5"/>
<rect x="740" y="35" width="2" height="6"/>
<rect x="803" y="266" width="2" height="5"/>
<rect x="803" y="35" width="2" height="6"/>
<rect x="866" y="266" width="2" height="5"/>
<rect x="866" y="35" width="2" height="6"/>
<rect x="928" y="266" width="2" height="5"/>
<rect x="928" y="35" width="2" height="6"/>
<rect x="990" y="266" width="2" height="5"/>
<rect x="990" y="35" width="2" height="6"/>
<rect x="1053" y="266" width="2" height="5"/>
<rect x="1053" y="35" width="2" height="6"/>
<rect x="1116" y="266" width="2" height="5"/>
<rect x="1116" y="35" width="2" height="6"/>
<rect x="1178" y="266" width="2" height="5"/>
<rect x="1178" y="35" width="2" height="6"/>
<rect x="1240" y="266" width="2" height="5"/>
<rect x="1240" y="35" width="2" height="6"/>
</g>
<g transform="translate(0,1386)">
<text class="t" x="709" y="25.2">844.6 nm (HV = 75)</text>
<text class="b" x="1066" y="83">844.6 nm</text>
<text class="x" x="709.8" y="322.7">Time (UT)</text>
<text class="x" transform="translate(32.2,153.5) rotate(-90) scale(1,1.16)">Counts</text>
<text class="x" x="116.1" y="298.8">13</text>
<text class="x" x="178.6" y="298.8">14</text>
<text class="x" x="241.1" y="298.8">15</text>
<text class="x" x="303.6" y="298.8">16</text>
<text class="x" x="366.1" y="298.8">17</text>
<text class="x" x="428.6" y="298.8">18</text>
<text class="x" x="491.1" y="298.8">19</text>
<text class="x" x="553.6" y="298.8">20</text>
<text class="x" x="616.1" y="298.8">21</text>
<text class="x" x="678.6" y="298.8">22</text>
<text class="x" x="741.1" y="298.8">23</text>
<text class="x" x="803.6" y="298.8">0</text>
<text class="x" x="866.1" y="298.8">1</text>
<text class="x" x="928.6" y="298.8">2</text>
<text class="x" x="991.1" y="298.8">3</text>
<text class="x" x="1053.6" y="298.8">4</text>
<text class="x" x="1116.1" y="298.8">5</text>
<text class="x" x="1178.6" y="298.8">6</text>
<text class="x" x="1241.1" y="298.8">7</text>
<text class="x" x="1303.6" y="298.8">8</text>
<text class="y" transform="translate(110.3,243.7) scale(1,1.05)">10000</text>
<text class="y" transform="translate(110.3,207.7) scale(1,1.05)">20000</text>
<text class="y" transform="translate(110.3,171.7) scale(1,1.05)">30000</text>
<text class="y" transform="translate(110.3,135.7) scale(1,1.05)">40000</text>
<text class="y" transform="translate(110.3,99.7) scale(1,1.05)">50000</text>
<text class="y" transform="translate(110.3,63.7) scale(1,1.05)">60000</text>
<text class="y" transform="translate(110.3,271.8) scale(1,1.05)">0</text>
<text class="y" transform="translate(110.3,48.8) scale(1,1.05)">65535</text>
</g>
</svg>
</body></html>
